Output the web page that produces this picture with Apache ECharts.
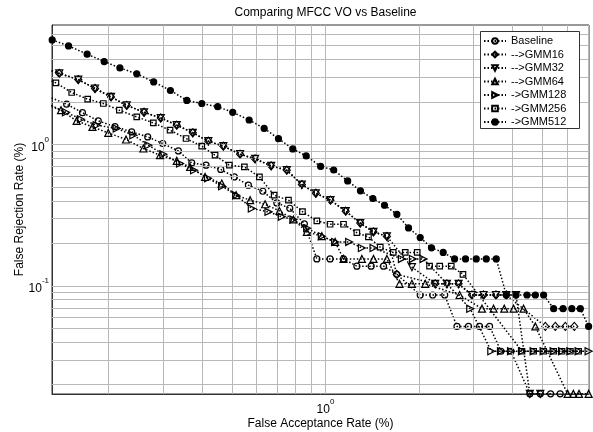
<!DOCTYPE html>
<html><head><meta charset="utf-8">
<script src="https://cdn.jsdelivr.net/npm/echarts@6/dist/echarts.min.js"></script>
<style>html,body{margin:0;padding:0;background:#fff}#c{width:593px;height:432px}</style>
</head><body><div id="c"></div>
<script>
// ---- data (FAR %, FRR %) ----
const seriesNames = ['Baseline', '-->GMM16', '-->GMM32', '-->GMM64', '->GMM128', '->GMM256', '->GMM512'];

const baselineX = [0.1252, 0.1469, 0.1652, 0.1857, 0.2102, 0.2379, 0.2679, 0.2995, 0.3362, 0.3713, 0.4127, 0.4603, 0.509, 0.5649, 0.6287, 0.6974, 0.7676, 0.8551, 0.9382, 1.035, 1.143, 1.262, 1.403, 1.538, 1.696, 2.018, 2.214, 2.42, 2.65, 2.887, 3.133, 3.375, 3.672, 3.955, 4.547, 4.915, 5.305, 5.693];
const baselineY = [2.232, 1.928, 1.679, 1.469, 1.336, 1.228, 1.132, 1.016, 0.901, 0.741, 0.714, 0.666, 0.590, 0.516, 0.467, 0.386, 0.354, 0.275, 0.1552, 0.1552, 0.1552, 0.1379, 0.1379, 0.1379, 0.1207, 0.0862, 0.0862, 0.0862, 0.0517, 0.0517, 0.0517, 0.0517, 0.0345, 0.0345, 0.01724, 0.01724, 0.01724, 0.01724];

const gmm16X = [0.1252, 0.1391, 0.1601, 0.1813, 0.2041, 0.2293, 0.2607, 0.2951, 0.3322, 0.3741, 0.4198, 0.4693, 0.5312, 0.5937, 0.6688, 0.751, 0.8395, 0.9313, 1.038, 1.162, 1.294, 1.427, 1.577, 1.696, 2.256, 2.46, 2.682, 2.961, 3.228, 3.538, 3.819, 5.101, 5.494, 5.916, 6.324];
const gmm16Y = [3.46, 3.18, 2.88, 2.49, 2.17, 1.89, 1.69, 1.54, 1.37, 1.21, 1.055, 0.973, 0.854, 0.791, 0.706, 0.658, 0.521, 0.452, 0.404, 0.3375, 0.278, 0.241, 0.224, 0.1207, 0.1034, 0.1034, 0.1034, 0.0862, 0.0862, 0.0862, 0.0862, 0.0517, 0.0517, 0.0517, 0.0517];

const gmm32X = [0.1252, 0.1391, 0.1601, 0.1813, 0.2041, 0.2293, 0.2607, 0.2951, 0.3322, 0.3741, 0.4198, 0.4693, 0.5312, 0.5937, 0.6688, 0.751, 0.8395, 0.9313, 1.038, 1.162, 1.294, 1.427, 1.577, 1.898, 2.256, 2.46, 2.682, 2.961, 3.228, 3.538, 3.819, 4.105, 4.547, 4.915];
const gmm32Y = [3.46, 3.18, 2.88, 2.49, 2.17, 1.89, 1.69, 1.54, 1.37, 1.21, 1.055, 0.973, 0.854, 0.791, 0.706, 0.658, 0.521, 0.452, 0.404, 0.3375, 0.278, 0.241, 0.224, 0.1356, 0.1034, 0.1034, 0.1034, 0.0862, 0.0862, 0.0862, 0.0862, 0.0862, 0.01724, 0.01724];

const gmm64X = [0.1252, 0.1409, 0.1582, 0.1779, 0.2, 0.2281, 0.2594, 0.2935, 0.3322, 0.3667, 0.4099, 0.4638, 0.5159, 0.5723, 0.6394, 0.7109, 0.7886, 0.8712, 0.9736, 1.0745, 1.143, 1.31, 1.428, 1.577, 1.731, 1.898, 2.095, 2.702, 3.19, 3.476, 3.763, 4.032, 4.342, 4.737, 6.017, 6.277, 6.547, 7.03];
const gmm64Y = [1.99, 1.748, 1.469, 1.332, 1.208, 1.085, 0.937, 0.84, 0.766, 0.694, 0.59, 0.53, 0.438, 0.404, 0.378, 0.339, 0.295, 0.241, 0.2246, 0.2047, 0.1552, 0.1552, 0.1552, 0.1552, 0.1034, 0.1034, 0.1034, 0.0862, 0.069, 0.069, 0.069, 0.069, 0.069, 0.0517, 0.01724, 0.01724, 0.01724, 0.01724];

const gmm128X = [0.1252, 0.1462, 0.1633, 0.1836, 0.2129, 0.2408, 0.2691, 0.3008, 0.3404, 0.3777, 0.4189, 0.4648, 0.5159, 0.5794, 0.6555, 0.7237, 0.7886, 0.8731, 0.9736, 1.0745, 1.192, 1.31, 1.428, 1.762, 1.912, 2.069, 2.924, 3.418, 3.672, 3.955, 4.291, 4.677, 5.037, 5.425, 5.772, 6.139, 6.528, 7.03];
const gmm128Y = [1.93, 1.692, 1.51, 1.369, 1.298, 1.164, 0.989, 0.854, 0.734, 0.658, 0.578, 0.507, 0.438, 0.353, 0.334, 0.308, 0.295, 0.256, 0.2246, 0.2047, 0.2047, 0.1856, 0.1856, 0.1552, 0.1552, 0.1552, 0.069, 0.0345, 0.0345, 0.0345, 0.0345, 0.0345, 0.0345, 0.0345, 0.0345, 0.0345, 0.0345, 0.0345];

const gmm256X = [0.1252, 0.1357, 0.1525, 0.1717, 0.1928, 0.2171, 0.247, 0.2793, 0.3161, 0.3559, 0.3998, 0.4413, 0.4907, 0.5483, 0.6131, 0.6837, 0.7601, 0.8432, 0.9382, 1.035, 1.143, 1.262, 1.375, 1.501, 1.652, 1.806, 1.974, 2.163, 2.332, 2.54, 2.77, 4.291, 4.677, 5.037, 5.425, 5.772, 6.139, 6.528];
const gmm256Y = [2.94, 2.727, 2.332, 2.091, 1.95, 1.748, 1.567, 1.422, 1.262, 1.103, 0.973, 0.84, 0.714, 0.694, 0.59, 0.438, 0.404, 0.335, 0.288, 0.273, 0.273, 0.2378, 0.222, 0.1878, 0.1724, 0.1724, 0.1724, 0.1379, 0.1379, 0.1379, 0.1207, 0.0345, 0.0345, 0.0345, 0.0345, 0.0345, 0.0345, 0.0345];

const gmm512X = [0.132, 0.149, 0.171, 0.194, 0.218, 0.247, 0.28, 0.317, 0.358, 0.4, 0.45, 0.503, 0.568, 0.635, 0.706, 0.785, 0.867, 0.965, 1.063, 1.179, 1.296, 1.421, 1.549, 1.698, 1.851, 2.018, 2.194, 2.393, 2.603, 2.824, 3.057, 3.293, 3.546, 3.819, 4.105, 4.453, 4.737, 5.037, 5.425, 5.817, 6.208, 6.611, 7.03];
const gmm512Y = [5.49, 4.98, 4.35, 3.86, 3.48, 3.16, 2.77, 2.41, 2.05, 1.95, 1.85, 1.69, 1.49, 1.30, 1.10, 0.93, 0.83, 0.70, 0.66, 0.553, 0.470, 0.415, 0.372, 0.321, 0.257, 0.220, 0.186, 0.1724, 0.1552, 0.1552, 0.1552, 0.1552, 0.1552, 0.0862, 0.0862, 0.0862, 0.0862, 0.0862, 0.069, 0.069, 0.069, 0.069, 0.0517];

// axis limits and grid (log decade sub-lines)
const xMin = 0.1318, xMax = 7.05;
const yMin = 0.0172, yMax = 7.0;
const xGridValues = [0.2, 0.3, 0.4, 0.5, 0.6, 0.7, 0.8, 0.9, 1, 2, 3, 4, 5, 6, 7];
const yGridValues = [0.02, 0.03, 0.04, 0.05, 0.06, 0.07, 0.08, 0.09, 0.1, 0.2, 0.3, 0.4, 0.5, 0.6, 0.7, 0.8, 0.9, 1, 2, 3, 4, 5, 6];

const FONT = '"Liberation Sans", Arial, Helvetica, sans-serif';
const zip = (xs, ys) => xs.map((x, i) => [x, ys[i]]);

const styles = [
  {symbol: 'circle', size: 6, rotate: 0, fill: 'transparent'},
  {symbol: 'diamond', size: [7, 8], rotate: 0, fill: 'transparent'},
  {symbol: 'triangle', size: 7, rotate: 180, fill: 'transparent'},
  {symbol: 'triangle', size: 7, rotate: 0, fill: 'transparent'},
  {symbol: 'triangle', size: 7, rotate: -90, fill: 'transparent'},
  {symbol: 'rect', size: 5.5, rotate: 0, fill: 'transparent'},
  {symbol: 'circle', size: 6, rotate: 0, fill: '#000'}
];
const datasets = [
  zip(baselineX, baselineY), zip(gmm16X, gmm16Y), zip(gmm32X, gmm32Y), zip(gmm64X, gmm64Y),
  zip(gmm128X, gmm128Y), zip(gmm256X, gmm256Y), zip(gmm512X, gmm512Y)
];

const isPow = (v, p) => Math.abs(Math.log10(v) - p) < 1e-6;

const series = [{
  name: 'grid', type: 'line', data: [], silent: true, z: 1,
  markLine: {
    silent: true, symbol: ['none', 'none'], label: {show: false}, animation: false,
    lineStyle: {color: '#b8b8b8', width: 1, type: 'solid'},
    emphasis: {disabled: true},
    data: xGridValues.map(v => ({xAxis: v})).concat(yGridValues.map(v => ({yAxis: v})))
  }
}];
seriesNames.forEach((n, i) => {
  const s = styles[i];
  series.push({
    name: n, type: 'line', data: datasets[i], z: 3 + i,
    symbol: s.symbol, symbolSize: s.size, symbolRotate: s.rotate, showSymbol: true,
    clip: true,
    lineStyle: {color: '#000', width: 1.5, type: [1.5, 2]},
    itemStyle: {color: s.fill, borderColor: '#000', borderWidth: 1.2},
    emphasis: {disabled: true}
  });
});

const chart = echarts.init(document.getElementById('c'), null, {renderer: 'canvas'});
chart.setOption({
  animation: false,
  backgroundColor: '#fff',
  title: {
    text: 'Comparing MFCC VO vs Baseline', left: 320.5, top: 2, textAlign: 'center',
    textStyle: {fontFamily: FONT, fontSize: 12, fontWeight: 'normal', color: '#000'}
  },
  grid: {left: 52, right: 4, top: 25, bottom: 38, show: true, borderColor: '#333', borderWidth: 1,
         containLabel: false, outerBoundsMode: 'none'},
  graphic: [{
    type: 'rect', z: 50, silent: true,
    shape: {x: 480.5, y: 31.5, width: 99, height: 97},
    style: {fill: '#fff', stroke: '#333', lineWidth: 1}
  }],
  legend: {
    orient: 'vertical', left: 480, top: 32, z: 60,
    itemWidth: 22, itemHeight: 7, itemGap: 1.5,
    padding: [3, 2, 3, 3],
    textStyle: {fontFamily: FONT, fontSize: 11, color: '#000', lineHeight: 12},
    data: seriesNames
  },
  xAxis: {
    type: 'log', logBase: 10, min: xMin, max: xMax,
    axisLine: {show: true, onZero: false, lineStyle: {color: '#333'}},
    axisTick: {show: false}, splitLine: {show: false},
    axisLabel: {
      margin: 4, showMinLabel: false, showMaxLabel: false,
      formatter: v => isPow(v, 0) ? '{b|10}{s|0}' : '',
      rich: {
        b: {fontFamily: FONT, fontSize: 12, color: '#000', lineHeight: 18, verticalAlign: 'bottom'},
        s: {fontFamily: FONT, fontSize: 8, color: '#000', lineHeight: 18, verticalAlign: 'top'}
      }
    },
    name: 'False Acceptance Rate (%)', nameLocation: 'middle', nameGap: 24, nameMoveOverlap: false,
    nameTextStyle: {fontFamily: FONT, fontSize: 12, color: '#000'}
  },
  yAxis: {
    type: 'log', logBase: 10, min: yMin, max: yMax,
    axisLine: {show: true, onZero: false, lineStyle: {color: '#333'}},
    axisTick: {show: false}, splitLine: {show: false},
    axisLabel: {
      margin: 3, showMinLabel: false, showMaxLabel: false,
      formatter: v => isPow(v, 0) ? '{b|10}{s|0}' : (isPow(v, -1) ? '{b|10}{s|-1}' : ''),
      rich: {
        b: {fontFamily: FONT, fontSize: 12, color: '#000', lineHeight: 18, verticalAlign: 'bottom'},
        s: {fontFamily: FONT, fontSize: 8, color: '#000', lineHeight: 18, verticalAlign: 'top'}
      }
    },
    name: 'False Rejection Rate (%)', nameLocation: 'middle', nameGap: 26, nameRotate: 90, nameMoveOverlap: false,
    nameTextStyle: {fontFamily: FONT, fontSize: 12, color: '#000'}
  },
  series: series
});
</script>
</body></html>
